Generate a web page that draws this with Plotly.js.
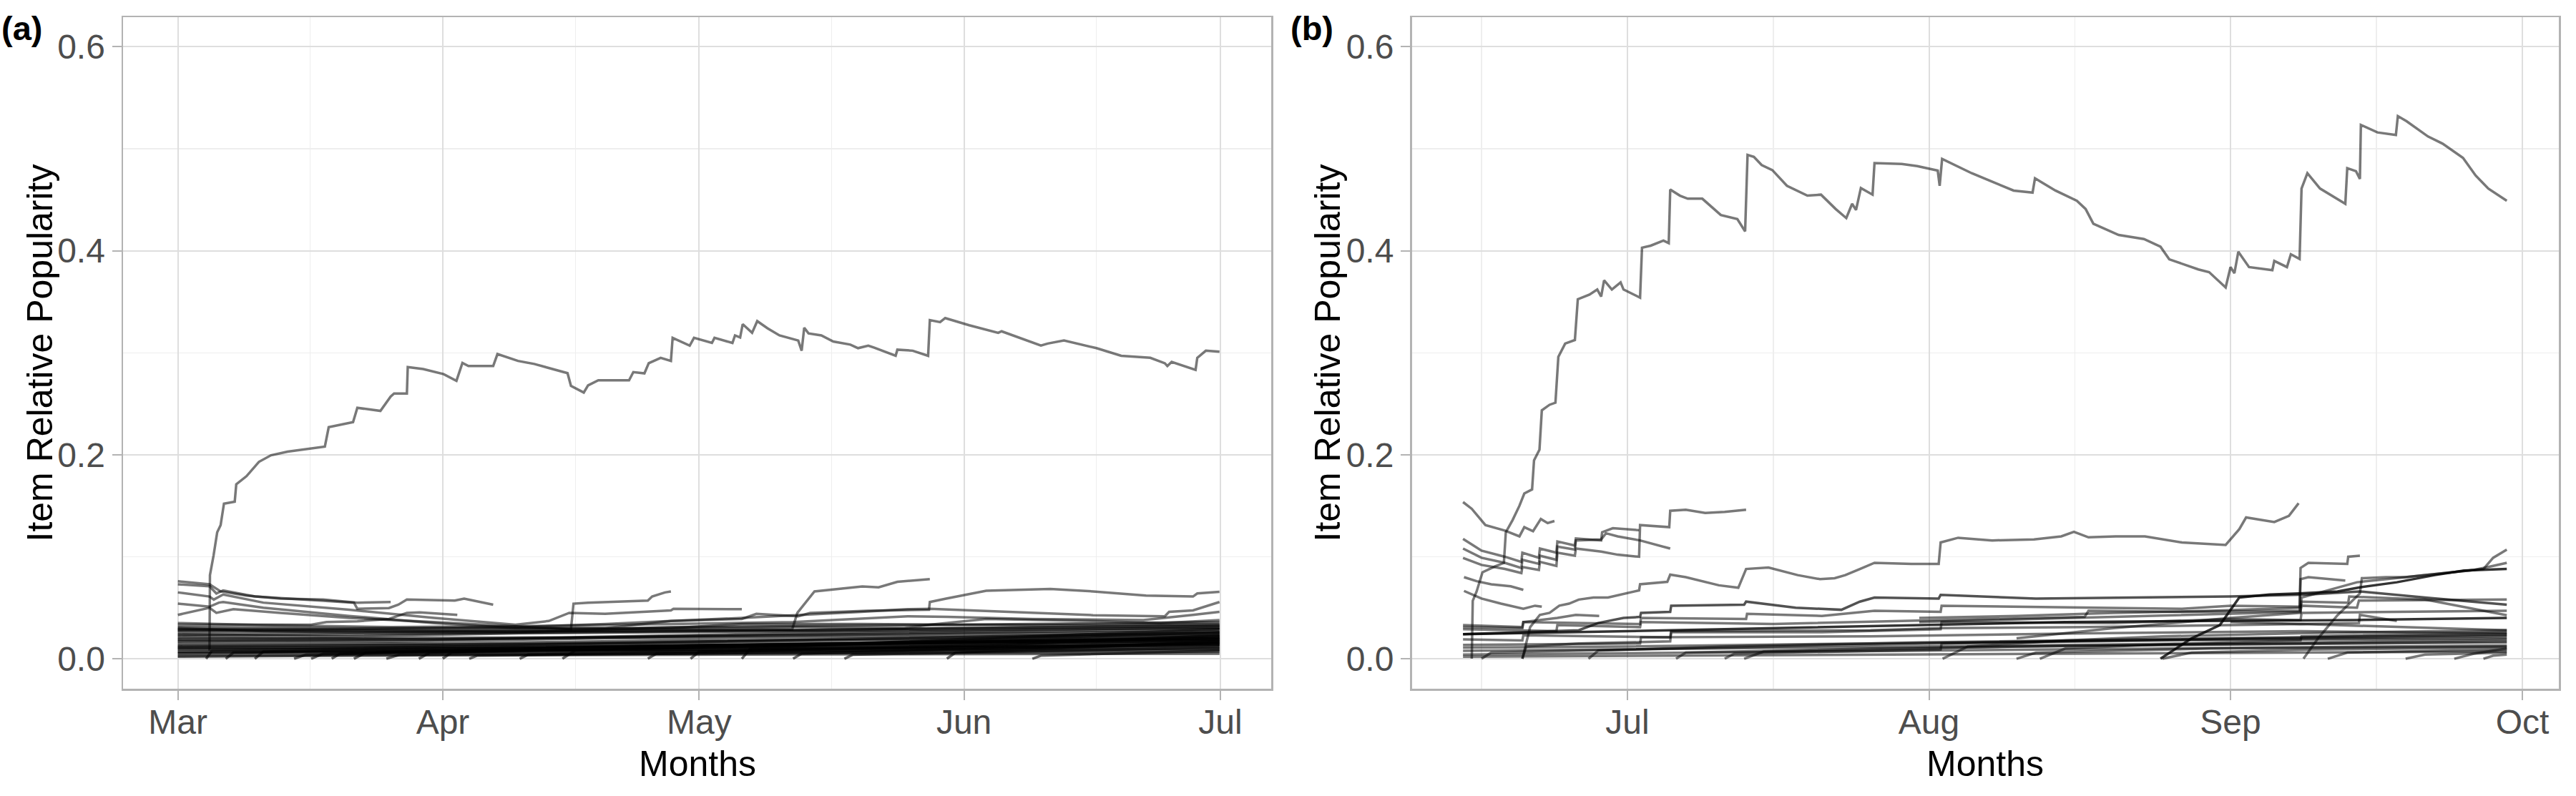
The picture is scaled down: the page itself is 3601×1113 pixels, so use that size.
<!DOCTYPE html>
<html>
<head>
<meta charset="utf-8">
<script src="https://cdn.plot.ly/plotly-3.0.1.min.js"></script>
<style>html,body{margin:0;padding:0;background:#fff}#chart{width:3601px;height:1113px}</style>
</head>
<body>
<div id="chart"></div>
<script>
// ---------------- DATA ----------------
// Panel (a): days since 2019-03-01
const aMainDays = [3.7,3.75,4.17,4.6,5.0,5.39,6.65,6.83,8.03,9.48,10.9,12.84,17.2,17.65,20.5,21.0,23.7,24.9,25.3,26.8,26.9,28.7,31.1,32.6,33.3,34.0,36.9,37.4,39.8,41.7,45.6,46.0,47.5,48.0,49.2,52.8,53.3,54.6,55.1,56.5,57.7,57.9,59.9,60.4,62.5,62.8,64.9,65.2,65.8,66.1,67.2,67.8,69.0,70.4,72.6,73.0,73.3,73.8,75.3,76.7,78.7,79.6,80.8,81.5,84.0,84.2,86.0,87.8,88.0,89.2,89.8,92.6,96.0,96.4,101.0,101.8,103.7,107.5,110.4,113.8,115.5,115.8,116.3,119.1,119.3,120.3,121.9];
const aMainVals = [0.008,0.082,0.101,0.124,0.131,0.152,0.154,0.171,0.179,0.193,0.1995,0.203,0.208,0.227,0.232,0.246,0.243,0.257,0.260,0.260,0.286,0.284,0.279,0.2725,0.290,0.287,0.287,0.2987,0.292,0.289,0.280,0.2675,0.261,0.268,0.273,0.273,0.281,0.2798,0.2897,0.295,0.292,0.3146,0.307,0.3146,0.3096,0.3146,0.3096,0.317,0.315,0.328,0.3195,0.331,0.324,0.317,0.312,0.302,0.3245,0.319,0.317,0.311,0.308,0.3045,0.307,0.305,0.297,0.303,0.302,0.297,0.332,0.330,0.334,0.327,0.3195,0.321,0.307,0.309,0.312,0.3045,0.297,0.295,0.2897,0.287,0.291,0.2832,0.295,0.302,0.301];

const aLineDays = [
  [0,3.7,5,8,12,17,21,24.9],
  [0,3.7,4.5,5.3,9,15,20.6,21,24.7,25.8,26.8,32.4,33.5,36.9],
  [0,3.7,4.2,5.3,10,20,30,39.5,43.4,45.8,50,57.7,58,66],
  [0,3.7,4.8,5.3,10,20,30,39.5,50,57.7,66,67.7,72.6,74,80.7,85.6,87.9,88,89.9,94.6,99.3,102.1,107.1,113.3,118.8,119.3,121.9],
  [0,3.7,4.5,6.5,12,20,30,40,46,46.3,48,55,55.5,57,57.7],
  [0,6,15.6,17.4,21,24.7,26.8,28.3,32.7],
  [0,10,20,40,60,71.9,72.5,74.5,80.1,82,84.2,88],
  [0,20,40,50,57.7,66,80,85.4,88,99.3,107.1,115.5,116,118.8,121.9],
  [0,10,25,40,57.7,72,85.4,90,100,113,118.8,121.9],
  [0,30,50,72,85,88,94.6,107,115,121.9],
  [0,20,40,57.7,66,80,100,121.9],
  [0,30,46,60,72,90,121.9],
  [0,20,40,60,88,121.9],
  [0,30,60,88,121.9],
  [0,25,50,88,121.9],
  [0,30,60,90,121.9],
  [0,40,80,121.9],
  [0,50,90,121.9],
  [0,40,85,121.9],
  [0,60,121.9],
  [0,50,121.9],
  [0,60,121.9],
  [3.3,4,20,50,88,121.9],
  [5.6,6.5,30,60,121.9],
  [13.6,15,40,80,121.9],
  [15.6,17,45,88,121.9],
  [20.6,22,50,90,121.9],
  [24.4,26,60,121.9],
  [28.2,29.5,70,121.9],
  [34.1,35,70,121.9],
  [45,46.5,80,121.9],
  [55,56,90,121.9],
  [66,67,88,121.9],
  [78,79,121.9],
  [90,91,121.9],
  [100,101,121.9],
  [0,40,57.7,88,121.9],
  [0,46,72,88,121.9],
  [0,20,46,72,121.9],
  [0,30,57.7,88,121.9],
  [0,25,55,90,121.9],
  [0,35,70,121.9],
  [0,45,88,121.9],
  [0,20,60,121.9],
  [9,10,40,80,121.9],
  [18,19,50,88,121.9],
  [31,32,66,121.9],
  [40,41,72,121.9],
  [60,61,95,121.9],
  [72,73,100,121.9]
];
const aLineVals = [
  [0.076,0.073,0.066,0.062,0.059,0.058,0.055,0.0556],
  [0.073,0.071,0.064,0.067,0.061,0.058,0.055,0.049,0.0497,0.053,0.058,0.057,0.059,0.053],
  [0.065,0.061,0.058,0.063,0.055,0.048,0.040,0.0334,0.037,0.045,0.044,0.0474,0.049,0.0486],
  [0.054,0.051,0.055,0.0556,0.050,0.042,0.035,0.030,0.030,0.037,0.039,0.044,0.0416,0.045,0.047,0.0474,0.048,0.0556,0.059,0.0666,0.068,0.0684,0.066,0.062,0.061,0.064,0.0656],
  [0.043,0.050,0.045,0.0486,0.045,0.040,0.036,0.032,0.029,0.054,0.055,0.057,0.061,0.065,0.066],
  [0.0334,0.0336,0.0334,0.036,0.0367,0.039,0.045,0.0455,0.043],
  [0.030,0.027,0.026,0.027,0.028,0.029,0.045,0.066,0.0708,0.070,0.0754,0.078],
  [0.028,0.029,0.031,0.034,0.037,0.040,0.046,0.0486,0.049,0.045,0.0427,0.0416,0.046,0.0474,0.0556],
  [0.035,0.033,0.031,0.032,0.034,0.036,0.0416,0.041,0.039,0.038,0.043,0.046],
  [0.029,0.028,0.029,0.031,0.030,0.0334,0.039,0.037,0.035,0.038],
  [0.031,0.030,0.030,0.030,0.034,0.034,0.033,0.034],
  [0.028,0.027,0.027,0.028,0.028,0.030,0.032],
  [0.024,0.022,0.025,0.026,0.028,0.030],
  [0.021,0.019,0.022,0.024,0.027],
  [0.018,0.017,0.020,0.022,0.025],
  [0.015,0.015,0.018,0.019,0.023],
  [0.013,0.014,0.016,0.020],
  [0.011,0.012,0.014,0.018],
  [0.009,0.010,0.012,0.016],
  [0.007,0.009,0.013],
  [0.005,0.007,0.010],
  [0.003,0.005,0.007],
  [0,0.008,0.010,0.015,0.020,0.024],
  [0,0.006,0.009,0.013,0.019],
  [0,0.004,0.008,0.011,0.015],
  [0,0.005,0.010,0.016,0.021],
  [0,0.006,0.012,0.016,0.020],
  [0,0.004,0.007,0.012],
  [0,0.006,0.014,0.022],
  [0,0.003,0.006,0.009],
  [0,0.008,0.015,0.026],
  [0,0.005,0.009,0.014],
  [0,0.010,0.018,0.029],
  [0,0.004,0.011],
  [0,0.006,0.017],
  [0,0.003,0.008],
  [0.026,0.026,0.031,0.033,0.036],
  [0.0195,0.021,0.025,0.027,0.031],
  [0.023,0.024,0.026,0.028,0.033],
  [0.017,0.019,0.022,0.025,0.029],
  [0.012,0.013,0.016,0.021,0.026],
  [0.010,0.011,0.014,0.017],
  [0.006,0.008,0.011,0.014],
  [0.002,0.003,0.004,0.005],
  [0,0.007,0.011,0.015,0.019],
  [0,0.005,0.010,0.014,0.018],
  [0,0.006,0.012,0.021],
  [0,0.004,0.009,0.015],
  [0,0.007,0.013,0.023],
  [0,0.005,0.011,0.016]
];

// Panel (b): days since 2019-06-01
const bMainDays = [14.0,14.1,14.5,15.1,16.4,17.3,17.5,18.2,18.9,19.4,20.2,20.4,20.96,21.2,22.0,22.3,22.6,22.9,23.6,24.6,24.9,26.1,26.9,27.3,27.6,28.4,29.3,29.6,30.7,31.3,31.5,32.4,33.7,34.25,34.4,35.4,36.2,37.7,39.6,41.3,42.1,42.35,43.0,43.8,44.9,46.4,48.5,49.9,51.4,52.5,53.1,53.5,54.0,55.2,55.4,58.2,59.8,61.9,62.1,62.35,65.4,69.7,71.65,71.9,74.0,76.2,77.1,77.9,80.5,83.1,84.8,85.7,88.7,89.8,91.5,92.0,92.4,92.8,93.9,96.3,96.5,97.8,98.2,99.1,99.3,99.9,101.2,103.8,104.0,104.9,105.3,105.4,107.1,109.0,109.2,110.1,112.3,113.8,115.9,117.2,118.5,120.4];
const bMainVals = [0.0,0.0567,0.066,0.0848,0.0906,0.094,0.124,0.136,0.150,0.162,0.166,0.1945,0.205,0.2435,0.249,0.250,0.251,0.296,0.309,0.3125,0.3524,0.357,0.362,0.355,0.371,0.362,0.369,0.362,0.357,0.354,0.403,0.405,0.410,0.4075,0.460,0.454,0.451,0.451,0.435,0.431,0.419,0.494,0.492,0.484,0.479,0.4637,0.454,0.455,0.441,0.432,0.446,0.440,0.4615,0.455,0.486,0.485,0.483,0.4786,0.4637,0.490,0.476,0.459,0.457,0.471,0.459,0.449,0.441,0.4265,0.4155,0.4115,0.404,0.3916,0.3817,0.379,0.364,0.384,0.378,0.399,0.384,0.381,0.390,0.384,0.3966,0.392,0.461,0.476,0.461,0.446,0.481,0.478,0.4703,0.5234,0.516,0.5135,0.532,0.527,0.512,0.505,0.491,0.4737,0.461,0.449];

const bLineDays = [
  [19.2,19.5,20,21,22,23,24,25,26.5,28,29.3,31.2,31.3,34.1,34.4,36,39.4,41.4,42.2,44.5,47.5,49.8,51.3,52.4,53.9,55.4,59.2,62.0,62.2,64,67.5,71.8,74.6,75.9,77.4,80.2,83.2,87,91.5,92.9,93.6,96.5,98,99],
  [13.1,14,15.4,17.4,18.9,19.4,20.3,21.1,21.8,22.5],
  [13.1,15,17.4,19.1,19.2,20.9,21.0,22.7,22.8,24.6,24.7,27.3,27.4,28.5,31.2],
  [13.1,15,17.4,19.1,19.2,20.9,21.0,22.7,22.8,24.6,24.7,27.3,27.8,29,31.3,34.4],
  [13.1,15,17.4,19.1,19.2,20.9,21.0,22.7,22.8,24.6,24.7,27.3,29,31.2,31.3,34.3,34.4,36,38,40,42.2],
  [13.2,14.5,16,18,19.3],
  [13.2,15,17,19.3,20.5,21.2],
  [13.1,19.2,19.3,22.8,24.7,27.1],
  [84.8,88,90.9,92.9,96,99,103,105.3,109.1,113,116,120.4],
  [99.5,101,103,104.5,105.3,105.5,108,110,113,116,118,119,120.4],
  [70,80,92,99.2,99.3,105,110,117,118.5,120.4],
  [60,70,80,90,99.1,99.2,100,104,104.1,105.3],
  [60,75,90,99.1,99.2,100,103.8],
  [13.1,20,25,27,29.6,31.3,31.4,34.4,34.5,42,42.2,47.3,52,53.9,55.4,62,62.2,72,86,92,100,105.3,112,120.4],
  [92,99.2,105.2,105.3,109.1],
  [13.1,19.2,19.3,27,31.3,31.4,42.2,42.3,50,55.4,62.2,62.3,77,87,92,99.2,99.3,104.1,104.2,112,120.4],
  [13.1,22.7,22.8,31.3,31.4,45,62.2,77,77.4,87,99.2,99.3,105,105.2,120.4],
  [13.1,20,30,40,50,62,75,90,105,120.4],
  [13.1,19.2,19.3,34.4,34.5,55,62.2,77.4,92,99.3,120.4],
  [13.1,31.3,31.4,55,77.4,99.2,120.4],
  [13.1,30,55,80,105,120.4],
  [13.1,40,70,100,120.4],
  [13.1,50,90,120.4],
  [13.1,60,120.4],
  [15,16,30,50,80,120.4],
  [19.2,19.6,25,34.4,34.5,50,62.2,62.3,80,92,99.2,99.3,120.4],
  [26,27,40,60,90,120.4],
  [35,36,55,80,120.4],
  [40,41,62.2,62.3,85,120.4],
  [42,44,70,100,120.4],
  [62.4,65,75,85,99,120.4],
  [70,72,90,120.4],
  [72.4,75,85,99.2,99.3,120.4],
  [85,88,100,120.4],
  [102,104,120.4],
  [110,112,120.4],
  [115,117,120.4],
  [118,119,120.4]
];
const bLineVals = [
  [0.0,0.012,0.031,0.043,0.045,0.052,0.054,0.058,0.060,0.060,0.0626,0.067,0.073,0.0754,0.0824,0.080,0.072,0.0696,0.088,0.0894,0.082,0.078,0.079,0.082,0.088,0.094,0.093,0.093,0.114,0.1186,0.116,0.117,0.120,0.1245,0.119,0.120,0.120,0.114,0.1116,0.127,0.1385,0.134,0.140,0.1525],
  [0.1536,0.147,0.131,0.1256,0.120,0.129,0.125,0.137,0.133,0.135],
  [0.1175,0.106,0.100,0.095,0.104,0.099,0.108,0.104,0.115,0.111,0.118,0.116,0.124,0.128,0.126],
  [0.108,0.099,0.094,0.089,0.097,0.093,0.101,0.097,0.110,0.107,0.116,0.117,0.123,0.120,0.116,0.108],
  [0.0988,0.092,0.088,0.084,0.090,0.087,0.095,0.091,0.104,0.101,0.108,0.105,0.102,0.100,0.131,0.129,0.145,0.146,0.143,0.144,0.146],
  [0.080,0.076,0.073,0.071,0.0675],
  [0.0665,0.059,0.054,0.049,0.052,0.051],
  [0.031,0.030,0.036,0.040,0.043,0.042],
  [0.0,0.020,0.033,0.060,0.063,0.064,0.066,0.070,0.075,0.082,0.0864,0.088],
  [0.0,0.020,0.0427,0.0567,0.064,0.079,0.080,0.080,0.083,0.086,0.088,0.099,0.107],
  [0.020,0.030,0.040,0.045,0.060,0.075,0.080,0.087,0.090,0.094],
  [0.040,0.042,0.045,0.047,0.050,0.089,0.094,0.093,0.100,0.101],
  [0.036,0.040,0.044,0.046,0.078,0.080,0.0766],
  [0.024,0.026,0.028,0.035,0.040,0.041,0.045,0.046,0.052,0.053,0.056,0.050,0.048,0.056,0.060,0.059,0.0626,0.059,0.060,0.061,0.063,0.066,0.060,0.053],
  [0.036,0.034,0.035,0.043,0.037],
  [0.033,0.031,0.036,0.035,0.034,0.040,0.039,0.044,0.042,0.047,0.046,0.052,0.050,0.049,0.052,0.051,0.056,0.055,0.061,0.058,0.0427],
  [0.029,0.027,0.033,0.031,0.036,0.034,0.038,0.041,0.047,0.046,0.047,0.052,0.050,0.057,0.058],
  [0.024,0.025,0.027,0.029,0.031,0.034,0.036,0.037,0.038,0.040],
  [0.019,0.018,0.023,0.021,0.027,0.028,0.030,0.031,0.033,0.034,0.028],
  [0.0135,0.015,0.021,0.022,0.025,0.027,0.025],
  [0.011,0.012,0.015,0.018,0.020,0.022],
  [0.0077,0.010,0.013,0.016,0.019],
  [0.004,0.007,0.010,0.013],
  [0.002,0.004,0.007],
  [0,0.006,0.009,0.013,0.018,0.024],
  [0,0.012,0.015,0.017,0.026,0.026,0.029,0.036,0.035,0.039,0.038,0.045,0.047],
  [0,0.008,0.012,0.016,0.020,0.023],
  [0,0.006,0.010,0.013,0.016],
  [0,0.005,0.009,0.015,0.018,0.020],
  [0,0.007,0.012,0.015,0.017],
  [0,0.012,0.018,0.022,0.025,0.028],
  [0,0.006,0.010,0.012],
  [0,0.010,0.014,0.018,0.022,0.026],
  [0,0.006,0.009,0.011],
  [0,0.006,0.009],
  [0,0.004,0.006],
  [0,0.005,0.010],
  [0,0.003,0.004]
];

const panelLabels = ['(a)','(b)'];
const xTitle = 'Months';
const yTitle = 'Item Relative Popularity';

// ---------------- STYLE / LAYOUT ----------------
const W = 3601, H = 1113, DAY = 86400000;
const baseA = Date.UTC(2019,2,1), baseB = Date.UTC(2019,5,1);
const toMs = (base, days) => days.map(d => base + d*DAY);
const px = x => x / W, py = y => 1 - y / H;

const lineCol = 'rgba(0,0,0,0.53)';
const bandCol = 'rgba(0,0,0,0.6)';
const darkCol = 'rgba(0,0,0,0.8)';
const midCol = 'rgba(0,0,0,0.68)';
const darkB = new Set([8,17]);
const midB = new Set([13]);

const traces = [];
function addLine(base, days, vals, xa, ya, col, w){
  traces.push({type:'scatter', mode:'lines', x: toMs(base, days), y: vals, xaxis: xa, yaxis: ya,
    line:{color: col, width: w || 3.5}, hoverinfo:'skip', showlegend:false});
}
aLineDays.forEach((d,i) => addLine(baseA, d, aLineVals[i], 'x', 'y', i >= 10 ? bandCol : lineCol, i >= 10 ? 3.6 : 3.5));
addLine(baseA, aMainDays, aMainVals, 'x', 'y', lineCol);
bLineDays.forEach((d,i) => addLine(baseB, d, bLineVals[i], 'x2', 'y2', darkB.has(i) ? darkCol : (midB.has(i) ? midCol : lineCol)));
addLine(baseB, bMainDays, bMainVals, 'x2', 'y2', lineCol);

const tickFont = {family:'Liberation Sans, Arial, sans-serif', size:48, color:'#4D4D4D'};
function xAxis(domain, range, tick0, minor0){
  return {type:'date', domain, range, tickformat:'%b', dtick:'M1', tick0,
    ticks:'outside', ticklen:13, tickwidth:2, tickcolor:'#B3B3B3', ticklabelstandoff:-10,
    showline:true, mirror:true, linecolor:'#B3B3B3', linewidth:2.5,
    showgrid:true, gridcolor:'#DEDEDE', gridwidth:2, zeroline:false,
    minor:{dtick:'M1', tick0:minor0, showgrid:true, gridcolor:'#EEEEEE', gridwidth:1.2, ticks:''},
    tickfont: tickFont, fixedrange:true};
}
function yAxis(anchor){
  return {domain:[py(963), py(24)], range:[-0.0294, 0.629], dtick:0.2, tick0:0, tickformat:'.1f', anchor,
    ticks:'outside', ticklen:13, tickwidth:2, tickcolor:'#B3B3B3',
    showline:true, mirror:true, linecolor:'#B3B3B3', linewidth:2.5,
    showgrid:true, gridcolor:'#DEDEDE', gridwidth:2, zeroline:false,
    minor:{dtick:0.1, tick0:0, showgrid:true, gridcolor:'#EEEEEE', gridwidth:1.2, ticks:''},
    tickfont: tickFont, fixedrange:true};
}

const titleFont = {family:'Liberation Sans, Arial, sans-serif', size:50, color:'#000'};
const labFont = {family:'Liberation Sans, Arial, sans-serif', size:47, color:'#000', weight:'bold'};

const layout = {
  width:W, height:H, margin:{l:0,r:0,t:0,b:0}, paper_bgcolor:'#fff', plot_bgcolor:'#fff', showlegend:false,
  xaxis: xAxis([px(172), px(1777)], [baseA - 6.42*DAY, baseA + 127.95*DAY], '2019-03-01', '2019-03-16 12:00'),
  yaxis: yAxis('x'),
  xaxis2: xAxis([px(1973.5), px(3577)], [baseB + 7.83*DAY, baseB + 125.75*DAY], '2019-06-01', '2019-06-16'),
  yaxis2: yAxis('x2'),
  annotations: [
    {text:panelLabels[0], x:px(0), y:py(40), xref:'paper', yref:'paper', xanchor:'left', yanchor:'middle', showarrow:false, font:labFont},
    {text:panelLabels[1], x:px(1802), y:py(40), xref:'paper', yref:'paper', xanchor:'left', yanchor:'middle', showarrow:false, font:labFont},
    {text:xTitle, x:px(974.5), y:py(1068), xref:'paper', yref:'paper', xanchor:'center', yanchor:'middle', showarrow:false, font:titleFont},
    {text:xTitle, x:px(2775), y:py(1068), xref:'paper', yref:'paper', xanchor:'center', yanchor:'middle', showarrow:false, font:titleFont},
    {text:yTitle, x:px(55), y:py(493.5), xref:'paper', yref:'paper', xanchor:'center', yanchor:'middle', textangle:-90, showarrow:false, font:titleFont},
    {text:yTitle, x:px(1855), y:py(493.5), xref:'paper', yref:'paper', xanchor:'center', yanchor:'middle', textangle:-90, showarrow:false, font:titleFont}
  ]
};

Plotly.newPlot('chart', traces, layout, {staticPlot:true, displayModeBar:false});
</script>
</body>
</html>
